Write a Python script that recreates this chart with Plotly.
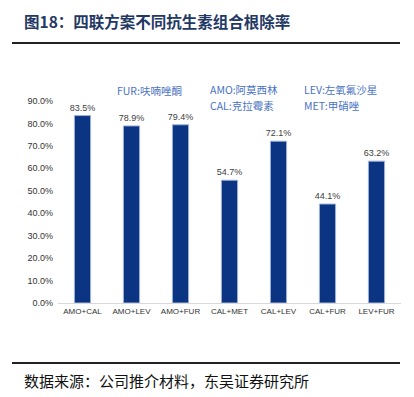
import plotly.graph_objects as go

categories = ["AMO+CAL", "AMO+LEV", "AMO+FUR", "CAL+MET", "CAL+LEV", "CAL+FUR", "LEV+FUR"]
rates = [0.835, 0.789, 0.794, 0.547, 0.721, 0.441, 0.632]
rate_labels = ["83.5%", "78.9%", "79.4%", "54.7%", "72.1%", "44.1%", "63.2%"]
y_ticks = [0.0, 0.1, 0.2, 0.3, 0.4, 0.5, 0.6, 0.7, 0.8, 0.9]
y_tick_labels = ["0.0%", "10.0%", "20.0%", "30.0%", "40.0%", "50.0%", "60.0%", "70.0%", "80.0%", "90.0%"]

title_text = "图18：四联方案不同抗生素组合根除率"
source_text = "数据来源：公司推介材料，东吴证券研究所"
legend_notes = [
    ("FUR:呋喃唑酮", 115, 91),
    ("AMO:阿莫西林", 208, 90),
    ("CAL:克拉霉素", 208, 105),
    ("LEV:左氧氟沙星", 302, 90),
    ("MET:甲硝唑", 302, 105),
]

# the page body has an 8px margin; work in window pixels and shift
OFF = 8
W, H = 414 - OFF, 397 - OFF
ml, mr, mt, mb = 58 - OFF, 13, 101 - OFF, 94

fig = go.Figure()
fig.add_trace(go.Bar(
    x=categories, y=rates,
    text=rate_labels, textposition="outside", constraintext="none",
    textfont=dict(family="Liberation Sans, Arial", size=9, color="#404040"),
    marker=dict(color="#0b3482", line=dict(color="#9fb2d6", width=1)),
    cliponaxis=False,
    hoverinfo="skip",
))

fig.update_layout(
    width=W, height=H,
    margin=dict(l=ml, r=mr, t=mt, b=mb, autoexpand=False),
    paper_bgcolor="white", plot_bgcolor="white",
    bargap=0.67,
    showlegend=False,
    xaxis=dict(
        showgrid=False, showline=True, linecolor="#d9d9d9", linewidth=1,
        ticks="", automargin=False,
        tickfont=dict(family="Liberation Sans Narrow, Liberation Sans, Arial", size=8, color="#333333"),
        fixedrange=True,
    ),
    yaxis=dict(
        range=[0, 0.9], showgrid=False, zeroline=False, showline=False,
        tickvals=y_ticks, ticktext=y_tick_labels, ticks="", automargin=False,
        ticklabelstandoff=4,
        tickfont=dict(family="Liberation Sans, Arial", size=9, color="#333333"),
        fixedrange=True,
    ),
)

plot_w = W - ml - mr
plot_h = H - mt - mb

def ax(x):
    return (x - OFF - ml) / plot_w

def ay(y):
    return 1 - (y - OFF - mt) / plot_h

annotations = [
    dict(text="<b>" + title_text + "</b>", xref="paper", yref="paper",
         x=ax(22), y=ay(8), xanchor="left", yanchor="top", showarrow=False,
         font=dict(family="Noto Sans CJK SC", size=15.5, color="#1f3864")),
    dict(text=source_text, xref="paper", yref="paper",
         x=ax(22), y=ay(380), xanchor="left", yanchor="middle", showarrow=False,
         font=dict(family="Noto Sans CJK SC", size=15, color="#111111")),
]
for txt, x, y in legend_notes:
    annotations.append(dict(text=txt, xref="paper", yref="paper",
                            x=ax(x), y=ay(y), xanchor="left", yanchor="middle", showarrow=False,
                            font=dict(family="Noto Sans CJK SC", size=10.5, color="#4a72c4")))
fig.update_layout(annotations=annotations)

def hline(y, x0=12, x1=400, width=2):
    fig.add_shape(type="line", xref="paper", yref="paper",
                  x0=ax(x0), x1=ax(x1), y0=ay(y), y1=ay(y),
                  line=dict(color="#222222", width=width))

hline(43)
hline(363)

fig.write_html("out.html")
